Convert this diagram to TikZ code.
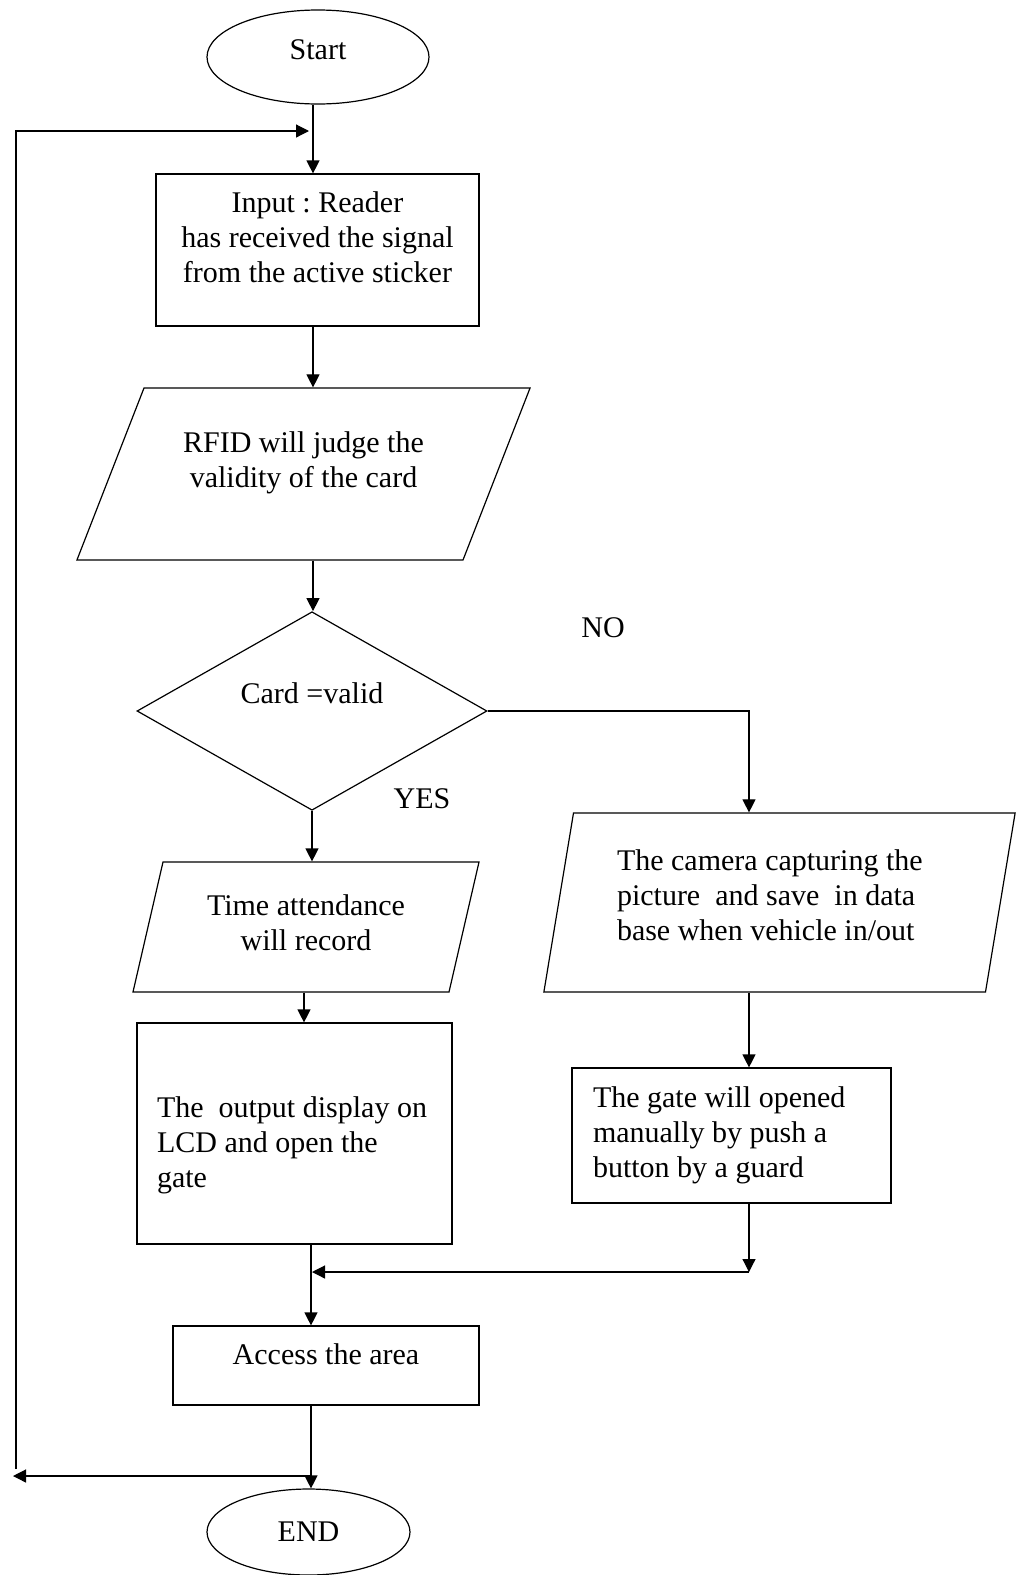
\documentclass[tikz,border=0pt]{standalone}
\usepackage{fontspec}
\setmainfont{Liberation Serif}
\usetikzlibrary{shapes.geometric,arrows.meta}
\frenchspacing
\tikzset{%
  flowbox/.style  = {shape=rectangle, draw, line width=0.6pt,%
                     inner sep=0pt, align=flush center},%
  terminal/.style = {shape=ellipse, draw, line width=0.6pt, inner sep=0pt},%
  iobox/.style    = {shape=trapezium, draw, line width=0.6pt, inner sep=0pt,%
                     align=flush center},%
  decision/.style = {shape=diamond, draw, line width=0.6pt, inner sep=0pt,%
                     align=center},%
  arr/.style      = {line width=0.6pt, -{Triangle[length=6.5pt,width=6.5pt]}}%
}

\begin{document}
\begin{tikzpicture}[x=0.5pt,y=-0.5pt,
every node/.style = {font=\fontsize{15}{17.5}\selectfont}]
	\useasboundingbox (0,0) rectangle (1016,1575);
	% main column
	\node [terminal, minimum width=111pt, minimum height=47pt, text depth=7pt] (start) at (318,57) {Start};
	\node [flowbox, text width=161.5pt, text height=19pt, text depth=57pt] (input) at (317.5,250)
		{Input : Reader\\has received the signal\\from the active sticker};
	\node [iobox, trapezium left angle=68.7, trapezium right angle=111.3,
		text width=159.5pt, text height=32pt, text depth=54pt] (rfid) at (303.5,474)
		{RFID will judge the\\validity of the card};
	\node [decision, minimum width=175pt, minimum height=84pt] (valid) at (312,711)
		{Card =valid\\ \mbox{}};
	% yes branch
	\node [iobox, trapezium left angle=77, trapezium right angle=103,
		text width=143pt, text height=26.5pt, text depth=38.5pt] (record) at (306,927)
		{Time attendance\\will record};
	\node [flowbox, align=flush left, text width=137.5pt, inner xsep=10pt,
		text height=47pt, text depth=63.5pt] (display) at (294.5,1133.5)
		{\mbox{The\ \ output display on}\\LCD and open the\\gate};
	% no branch
	\node [iobox, align=flush left, trapezium left angle=80.6, trapezium right angle=99.4,
		text width=162.5pt, inner xsep=21.75pt, text height=28.5pt, text depth=61pt] (camera) at (779.5,902.5)
		{\mbox{The camera capturing the}\\\mbox{picture\ \ and save\ \ in data}\\\mbox{base when vehicle in/out}};
	\node [flowbox, align=flush left, text width=138.5pt, inner xsep=10.5pt,
		text height=19.5pt, text depth=48pt] (manual) at (731.5,1135.5)
		{The gate will opened\\manually by push a\\button by a guard};
	% end
	\node [flowbox, minimum width=153pt, minimum height=39.5pt, text depth=11.5pt] (access) at (326,1365.5)
		{Access the area};
	\node [terminal, minimum width=101.5pt, minimum height=43pt] (stop) at (308.5,1532) {END};
	\node (no) at (603,628) {NO};
	\node (yes) at (422,799) {YES};
	% connectors
	\coordinate (col) at (313,0);
	\coordinate (col2) at (304,0);
	\coordinate (col3) at (311,0);
	\coordinate (noturn) at (749,0);
	\coordinate (nodrop) at (749,1272);
	\coordinate (merge) at (312,1272);
	\coordinate (loopin) at (309,131);
	\coordinate (looptop) at (16,131);
	\coordinate (loopbot) at (16,1469);
	\coordinate (loopout) at (311,1476);
	\coordinate (looptip) at (13,1476);
	\draw [arr] (start.south -| col) -- (input.north -| col);
	\draw [arr] (loopbot) -- (looptop) -- (loopin);
	\draw [arr] (input.south -| col) -- (rfid.north -| col);
	\draw [arr] (rfid.south -| col) -- (valid.north -| col);
	\draw [arr] (valid.south) -- (valid.south |- record.north);
	\draw [arr] (valid.east) -| (camera.north -| noturn);
	\draw [arr] (record.south -| col2) -- (display.north -| col2);
	\draw [arr] (camera.south -| noturn) -- (manual.north -| noturn);
	\draw [arr] (manual.south -| noturn) -- (nodrop);
	\draw [arr] (nodrop) -- (merge);
	\draw [arr] (display.south -| col3) -- (access.north -| col3);
	\draw [arr] (access.south -| col3) -- (stop.north -| col3);
	\draw [arr] (loopout) -- (looptip);
\end{tikzpicture}
\end{document}
